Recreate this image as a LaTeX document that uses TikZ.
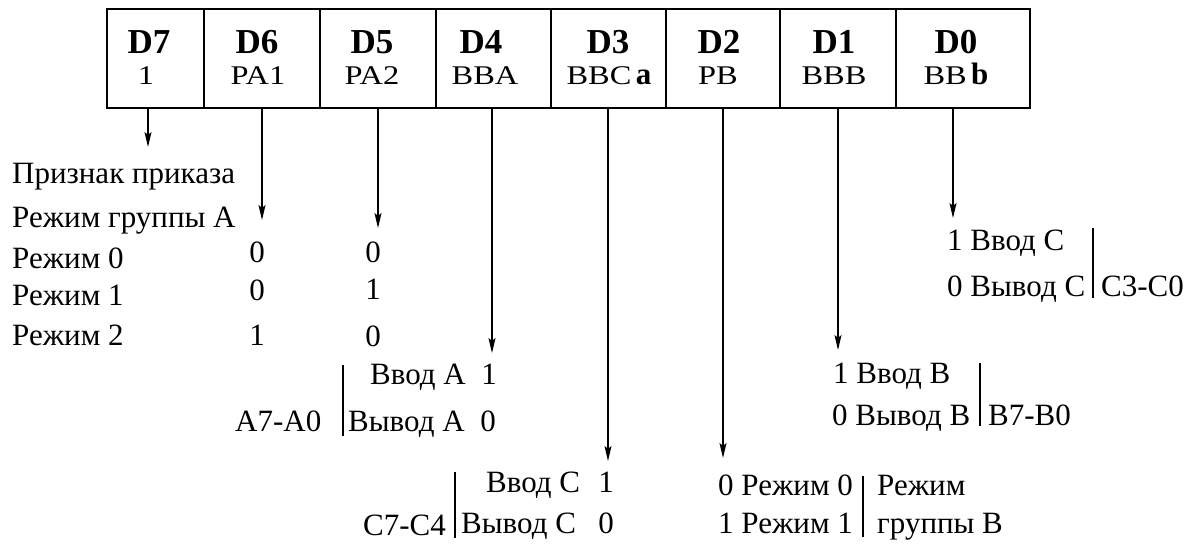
\documentclass[tikz,border=0pt]{standalone}
\usepackage{fontspec}
\setmainfont{Liberation Serif}
\newfontfamily\wideserif[FakeStretch=1.2]{Liberation Serif}
\usetikzlibrary{arrows.meta}
\begin{document}
\begin{tikzpicture}[x=1pt,y=-1pt,
  cellbox/.style={draw, line width=1.6pt, minimum height=99pt, inner sep=0pt, outer sep=0pt, anchor=north west},
  arr/.style={line width=1.6pt, -{Stealth[length=15pt,width=7pt,inset=3pt]}},
  bar/.style={line width=1.6pt},
  hd/.style={inner sep=0pt, anchor=base, font=\fontsize{35}{37}\selectfont\bfseries},
  sub/.style={inner sep=0pt, anchor=base, font=\fontsize{27}{29}\selectfont\wideserif},
  txt/.style={inner sep=0pt, anchor=base west, font=\fontsize{31}{33}\selectfont},
  txtc/.style={inner sep=0pt, anchor=base, font=\fontsize{31}{33}\selectfont},
  txte/.style={inner sep=0pt, anchor=base east, font=\fontsize{31}{33}\selectfont}]
\useasboundingbox (0,0) rectangle (1203,547);
% register cells
\node[cellbox, minimum width=97pt]  (c7) at (107,9) {};
\node[cellbox, minimum width=116pt] (c6) at (204,9) {};
\node[cellbox, minimum width=116pt] (c5) at (320,9) {};
\node[cellbox, minimum width=115pt] (c4) at (436,9) {};
\node[cellbox, minimum width=115pt] (c3) at (551,9) {};
\node[cellbox, minimum width=114pt] (c2) at (666,9) {};
\node[cellbox, minimum width=116pt] (c1) at (780,9) {};
\node[cellbox, minimum width=134pt] (c0) at (896,9) {};
% cell labels
\node[hd] (h7) at (149,53) {D7};
\node[hd] (h6) at (257,53) {D6};
\node[hd] (h5) at (372,53) {D5};
\node[hd] (h4) at (481,53) {D4};
\node[hd] (h3) at (608,53) {D3};
\node[hd] (h2) at (719,53) {D2};
\node[hd] (h1) at (834,53) {D1};
\node[hd] (h0) at (956,53) {D0};
\node[sub] (s7) at (146,84) {1};
\node[sub] (s6) at (258,84) {PA1};
\node[sub] (s5) at (372,84) {PA2};
\node[sub] (s4) at (485,84) {BBA};
\node[sub] (s3) at (609,84) {BBC\,{\normalfont\bfseries\fontsize{31}{33}\selectfont a}};
\node[sub] (s2) at (718,84) {PB};
\node[sub] (s1) at (834,84) {BBB};
\node[sub] (s0) at (956,84) {BB\,{\normalfont\bfseries\fontsize{31}{33}\selectfont b}};
% arrow ends
\coordinate (e7) at (148,147);
\coordinate (e6) at (262,220);
\coordinate (e5) at (378,228);
\coordinate (e4) at (492,353);
\coordinate (e3) at (608,461);
\coordinate (e2) at (723,458);
\coordinate (e1) at (838,350);
\coordinate (e0) at (953,218);
\draw[arr] (c7.south -| e7) -- (e7);
\draw[arr] (c6.south -| e6) -- (e6);
\draw[arr] (c5.south -| e5) -- (e5);
\draw[arr] (c4.south -| e4) -- (e4);
\draw[arr] (c3.south -| e3) -- (e3);
\draw[arr] (c2.south -| e2) -- (e2);
\draw[arr] (c1.south -| e1) -- (e1);
\draw[arr] (c0.south -| e0) -- (e0);
% left column
\node[txt] (l1) at (12,183) {Признак приказа};
\node[txt] (l2) at (12,227) {Режим группы А};
\node[txt] (l3) at (12,268) {Режим 0};
\node[txt] (l4) at (12,305) {Режим 1};
\node[txt] (l5) at (12,345) {Режим 2};
\node[txtc] (a1) at (257,262) {0};
\node[txtc] (a2) at (257,300) {0};
\node[txtc] (a3) at (257,345) {1};
\node[txtc] (b1) at (373,262) {0};
\node[txtc] (b2) at (373,299) {1};
\node[txtc] (b3) at (373,346) {0};
% D4 group
\node[txt] (g4a) at (370,384) {Ввод А};
\node[txtc] (g4b) at (489,384) {1};
\node[txt] (g4c) at (348,431) {Вывод А};
\node[txtc] (g4d) at (488,431) {0};
\node[txt] (g4e) at (235,431) {A7-A0};
\draw[bar] (343,365) -- (343,436);
% D3 group
\node[txt] (g3a) at (486,492) {Ввод С};
\node[txtc] (g3b) at (606,492) {1};
\node[txt] (g3c) at (461,533) {Вывод С};
\node[txtc] (g3d) at (606,533) {0};
\node[txte] (g3e) at (446,535) {C7-C4};
\draw[bar] (455,472) -- (455,538);
% D2 group
\node[txt] (g2a) at (718,495) {0 Режим 0};
\node[txt] (g2b) at (718,533) {1 Режим 1};
\node[txt] (g2c) at (877,495) {Режим};
\node[txt] (g2d) at (877,533) {группы В};
\draw[bar] (863,476) -- (863,537);
% D1 group
\node[txt] (g1a) at (833,383) {1 Ввод В};
\node[txt] (g1b) at (832,425) {0 Вывод В};
\node[txt] (g1c) at (988,425) {B7-B0};
\draw[bar] (980,363) -- (980,426);
% D0 group
\node[txt] (g0a) at (947,250) {1 Ввод С};
\node[txt] (g0b) at (947,296) {0 Вывод С};
\node[txt] (g0c) at (1101,296) {C3-C0};
\draw[bar] (1093,228) -- (1093,298);
\end{tikzpicture}
\end{document}
